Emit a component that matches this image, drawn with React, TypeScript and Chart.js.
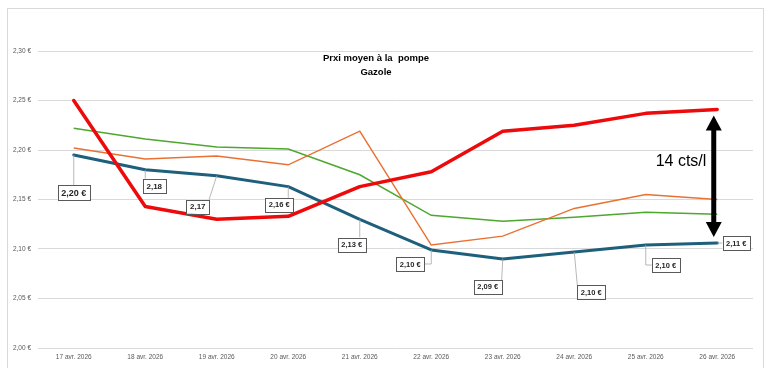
import React, { useEffect, useRef } from "react";
import { Chart, registerables } from "chart.js";

Chart.register(...registerables);

const categories = [
  "17 avr. 2026", "18 avr. 2026", "19 avr. 2026", "20 avr. 2026", "21 avr. 2026",
  "22 avr. 2026", "23 avr. 2026", "24 avr. 2026", "25 avr. 2026", "26 avr. 2026",
];
const redSeries = [2.25, 2.143, 2.13, 2.133, 2.163, 2.178, 2.219, 2.225, 2.237, 2.241];
const blueSeries = [2.195, 2.18, 2.174, 2.163, 2.13, 2.099, 2.09, 2.097, 2.104, 2.106];
const orangeSeries = [2.202, 2.191, 2.194, 2.185, 2.219, 2.104, 2.113, 2.141, 2.155, 2.15];
const greenSeries = [2.222, 2.211, 2.203, 2.201, 2.175, 2.134, 2.128, 2.132, 2.137, 2.135];
const blueLabels = ["2,20 €", "2,18", "2,17", "2,16 €", "2,13 €", "2,10 €", "2,09 €", "2,10 €", "2,10 €", "2,11 €"];
const titleLines = ["Prxi moyen à la  pompe", "Gazole"];
const gapText = "14 cts/l";
const yMin = 2.0;
const yMax = 2.3;
const yStep = 0.05;

// label layout: offset of box centre from point (px), font size, elbow leader
const labelLayout = [
  { dx: 0, dy: 38, fs: 9, elbow: false },
  { dx: 9, dy: 16, fs: 8, elbow: false },
  { dx: -19, dy: 31, fs: 8, elbow: false },
  { dx: -9, dy: 18, fs: 7.5, elbow: false },
  { dx: -8, dy: 25, fs: 7.5, elbow: false },
  { dx: -21, dy: 14, fs: 7.5, elbow: true },
  { dx: -15, dy: 28, fs: 7.5, elbow: false },
  { dx: 17, dy: 40, fs: 7.5, elbow: false },
  { dx: 20, dy: 20, fs: 7.5, elbow: true },
  { dx: 19, dy: 0, fs: 7.5, elbow: false },
];

const FONT = "'Liberation Sans', Arial, sans-serif";

const decorPlugin = {
  id: "decor",
  beforeDraw(chart: any) {
    const ctx = chart.ctx;
    ctx.save();
    ctx.fillStyle = "#ffffff";
    ctx.fillRect(0, 0, chart.width, chart.height);
    ctx.strokeStyle = "#d9d9d9";
    ctx.lineWidth = 1;
    ctx.strokeRect(7.5, 8.5, 756, 370);
    ctx.restore();
  },
  afterDatasetsDraw(chart: any) {
    const ctx = chart.ctx;
    const xs = chart.scales.x;
    const ys = chart.scales.y;
    ctx.save();

    // title
    ctx.fillStyle = "#000000";
    ctx.font = `bold 9.5px ${FONT}`;
    ctx.textAlign = "center";
    ctx.textBaseline = "middle";
    ctx.fillText(titleLines[0], 376, 58);
    ctx.fillText(titleLines[1], 376, 72);

    // data labels for blue series
    blueSeries.forEach((v, i) => {
      const px = xs.getPixelForValue(i);
      const py = ys.getPixelForValue(v);
      const L = labelLayout[i];
      ctx.font = `bold ${L.fs}px ${FONT}`;
      const tw = ctx.measureText(blueLabels[i]).width;
      const w = tw + 7;
      const h = L.fs + 6;
      const cx = px + L.dx;
      const cy = py + L.dy;
      const bx = cx - w / 2;
      const by = cy - h / 2;
      // leader line
      ctx.strokeStyle = "#a6a6a6";
      ctx.lineWidth = 0.8;
      if (L.dx !== 0 || L.dy !== 0) {
        ctx.beginPath();
        if (L.elbow) {
          ctx.moveTo(px, py);
          ctx.lineTo(px, cy);
          ctx.lineTo(cx > px ? bx : bx + w, cy);
        } else {
          const ex = Math.min(Math.max(px, bx), bx + w);
          const ey = Math.min(Math.max(py, by), by + h);
          ctx.moveTo(px, py);
          ctx.lineTo(ex, ey);
        }
        ctx.stroke();
      }
      ctx.fillStyle = "#ffffff";
      ctx.fillRect(bx, by, w, h);
      ctx.strokeStyle = "#595959";
      ctx.lineWidth = 1;
      ctx.strokeRect(Math.round(bx) + 0.5, Math.round(by) + 0.5, Math.round(w), Math.round(h));
      ctx.fillStyle = "#262626";
      ctx.textAlign = "center";
      ctx.textBaseline = "middle";
      ctx.fillText(blueLabels[i], cx, cy + 0.5);
    });

    // arrow between last red and last blue
    const last = redSeries.length - 1;
    const ax = xs.getPixelForValue(last) - 3.5;
    const top = ys.getPixelForValue(redSeries[last]) + 6;
    const bot = ys.getPixelForValue(blueSeries[last]) - 6;
    const headH = 15;
    const headW = 16;
    ctx.fillStyle = "#000000";
    ctx.strokeStyle = "#000000";
    ctx.lineWidth = 5;
    ctx.beginPath();
    ctx.moveTo(ax, top + headH - 2);
    ctx.lineTo(ax, bot - headH + 2);
    ctx.stroke();
    ctx.beginPath();
    ctx.moveTo(ax, top);
    ctx.lineTo(ax - headW / 2, top + headH);
    ctx.lineTo(ax + headW / 2, top + headH);
    ctx.closePath();
    ctx.fill();
    ctx.beginPath();
    ctx.moveTo(ax, bot);
    ctx.lineTo(ax - headW / 2, bot - headH);
    ctx.lineTo(ax + headW / 2, bot - headH);
    ctx.closePath();
    ctx.fill();

    ctx.font = `16px ${FONT}`;
    ctx.fillStyle = "#000000";
    ctx.textAlign = "center";
    ctx.textBaseline = "middle";
    ctx.fillText(gapText, 681, 162);

    ctx.restore();
  },
};

export default function App() {
  const ref = useRef<HTMLCanvasElement | null>(null);
  useEffect(() => {
    if (!ref.current) return;
    const chart = new Chart(ref.current, {
      type: "line",
      data: {
        labels: categories,
        datasets: [
          { label: "Rouge", data: redSeries, borderColor: "#ee0a0a", borderWidth: 3.5, pointRadius: 0, order: 1, borderJoinStyle: "round", borderCapStyle: "round", tension: 0 },
          { label: "Bleu", data: blueSeries, borderColor: "#1e5f7c", borderWidth: 3, pointRadius: 0, order: 2, borderJoinStyle: "round", borderCapStyle: "round", tension: 0 },
          { label: "Orange", data: orangeSeries, borderColor: "#e97132", borderWidth: 1.5, pointRadius: 0, order: 3, tension: 0 },
          { label: "Vert", data: greenSeries, borderColor: "#4ea72e", borderWidth: 1.5, pointRadius: 0, order: 4, tension: 0 },
        ],
      },
      options: {
        animation: false,
        responsive: false,
        devicePixelRatio: 1,
        layout: { padding: { top: 51, right: 17, left: 0, bottom: 0 } },
        plugins: { legend: { display: false }, tooltip: { enabled: false }, title: { display: false } },
        scales: {
          x: {
            offset: true,
            grid: { display: false, drawTicks: false },
            border: { display: false },
            ticks: { color: "#595959", font: { size: 6.5, family: FONT }, padding: 5, maxRotation: 0, autoSkip: false },
            afterFit: (s: any) => { s.height = 20; },
          },
          y: {
            min: yMin,
            max: yMax,
            grid: { color: "#d9d9d9", lineWidth: 1, drawTicks: false },
            border: { display: false },
            ticks: {
              stepSize: yStep,
              color: "#595959",
              font: { size: 6.5, family: FONT },
              padding: 7,
              callback: (v: any) => Number(v).toFixed(2).replace(".", ",") + " €",
            },
            afterFit: (s: any) => { s.width = 38; },
          },
        },
      },
      plugins: [decorPlugin],
    });
    return () => chart.destroy();
  }, []);
  return (
    <canvas
      ref={ref}
      width={770}
      height={368}
      style={{ position: "fixed", left: 0, top: 0, width: 770, height: 368, display: "block" }}
    />
  );
}
